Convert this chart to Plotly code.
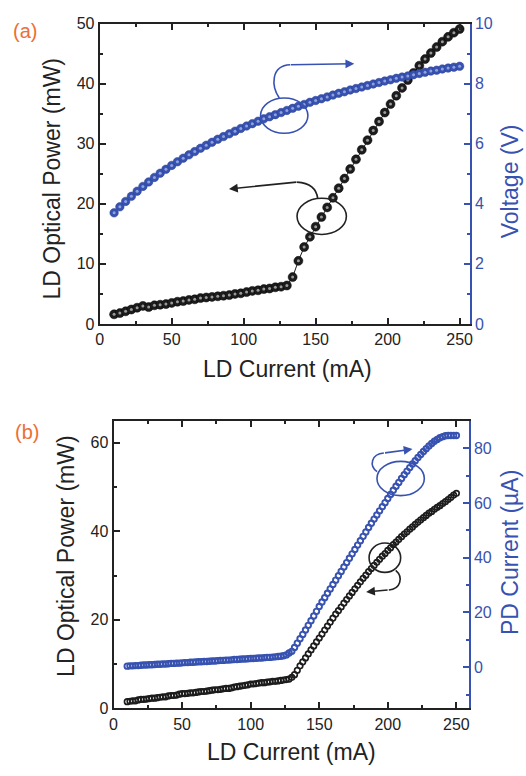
import plotly.graph_objects as go

W, H = 526, 776

# ---------------- DATA ----------------
# Panel (a)
a_current = list(range(10, 251, 4))
a_power = [1.6, 1.8, 2.1, 2.4, 2.7, 3.0, 2.8, 3.1, 3.2, 3.3, 3.5, 3.7, 3.8, 4.0, 4.1, 4.3,
           4.4, 4.5, 4.6, 4.7, 4.8, 5.0, 5.1, 5.3, 5.5, 5.6, 5.8, 5.9, 6.1, 6.2, 6.4, 7.8,
           10.5, 12.8, 14.5, 16.2, 17.8, 19.4, 21.0, 22.6, 24.2, 25.8, 27.4, 29.0, 30.6,
           32.2, 33.7, 35.2, 36.6, 38.0, 39.3, 40.6, 41.8, 43.0, 44.1, 45.1, 46.1, 47.0,
           47.8, 48.5, 49.1]
a_voltage = [3.70, 3.90, 4.08, 4.25, 4.42, 4.58, 4.73, 4.88, 5.02, 5.15, 5.28, 5.40, 5.52,
             5.63, 5.74, 5.85, 5.95, 6.05, 6.15, 6.24, 6.33, 6.42, 6.51, 6.59, 6.67, 6.75,
             6.83, 6.90, 6.97, 7.04, 7.11, 7.18, 7.25, 7.31, 7.38, 7.44, 7.50, 7.56, 7.62,
             7.68, 7.73, 7.79, 7.84, 7.89, 7.94, 7.99, 8.04, 8.09, 8.13, 8.18, 8.22, 8.26,
             8.30, 8.34, 8.38, 8.42, 8.45, 8.49, 8.52, 8.55, 8.58]

# Panel (b)
b_current = list(range(10, 251, 2))
b_power = [1.5, 1.6, 1.7, 1.7, 1.9, 2.0, 2.0, 2.1, 2.2, 2.3, 2.3, 2.4, 2.5, 2.6, 2.6, 2.8,
           2.9, 2.9, 3.0, 3.2, 3.3, 3.3, 3.4, 3.5, 3.5, 3.6, 3.7, 3.8, 3.8, 3.9, 4.0, 4.1,
           4.2, 4.2, 4.3, 4.4, 4.5, 4.5, 4.6, 4.8, 4.9, 5.0, 5.1, 5.2, 5.3, 5.5, 5.5, 5.6,
           5.7, 5.8, 5.8, 5.9, 6.0, 6.1, 6.1, 6.2, 6.3, 6.4, 6.5, 6.6, 7.0, 7.6, 8.6, 9.6,
           10.5, 11.4, 12.3, 13.2, 14.1, 15.0, 15.9, 16.8, 17.7, 18.6, 19.5, 20.4, 21.3,
           22.1, 22.9, 23.8, 24.6, 25.4, 26.2, 27.0, 27.8, 28.6, 29.4, 30.1, 30.9, 31.6,
           32.3, 33.0, 33.7, 34.4, 35.0, 35.7, 36.3, 37.0, 37.6, 38.2, 38.8, 39.4, 39.9,
           40.5, 41.0, 41.6, 42.1, 42.6, 43.1, 43.6, 44.1, 44.5, 45.0, 45.4, 45.8, 46.3,
           46.7, 47.2, 47.7, 48.2, 48.6]
b_pd_current = [0.4, 0.5, 0.5, 0.6, 0.6, 0.7, 0.8, 0.8, 0.9, 0.9, 1.0, 1.1, 1.1, 1.2, 1.2,
                1.3, 1.4, 1.4, 1.5, 1.5, 1.6, 1.7, 1.7, 1.8, 1.8, 1.9, 2.0, 2.0, 2.1, 2.1,
                2.2, 2.3, 2.3, 2.4, 2.5, 2.5, 2.6, 2.6, 2.7, 2.8, 2.8, 2.9, 3.0, 3.0, 3.1,
                3.2, 3.2, 3.3, 3.4, 3.4, 3.5, 3.6, 3.6, 3.7, 3.8, 3.9, 4.0, 4.2, 4.5, 5.2,
                5.8, 7.2, 8.8, 10.4, 12.0, 13.6, 15.3, 17.0, 18.7, 20.4, 22.2, 23.8, 25.4,
                27.0, 28.6, 30.2, 31.8, 33.4, 35.0, 36.6, 38.2, 39.8, 41.4, 43.0, 44.6,
                46.2, 47.8, 49.4, 51.0, 52.6, 54.1, 55.6, 57.1, 58.6, 60.1, 61.6, 63.1,
                64.6, 66.1, 67.5, 68.9, 70.3, 71.6, 72.9, 74.2, 75.4, 76.6, 77.7, 78.8,
                79.8, 80.8, 81.7, 82.5, 83.2, 83.8, 84.2, 84.5, 84.6, 84.6, 84.6, 84.6]

# tick values
a_xticks = [0, 50, 100, 150, 200, 250]
a_yticks_left = [0, 10, 20, 30, 40, 50]
a_yticks_right = [0, 2, 4, 6, 8, 10]
b_xticks = [0, 50, 100, 150, 200, 250]
b_yticks_left = [0, 20, 40, 60]
b_yticks_right = [0, 20, 40, 60, 80]

# ---------------- STYLE ----------------
BLUE = "#3752b0"
BLACK = "#1c1c1c"
ORANGE = "#ec6f34"
FONT = "Liberation Sans, Arial, sans-serif"


def px(x):
    return x / W


def py(y):
    return 1 - y / H


fig = go.Figure()

# panel (a)
fig.add_trace(go.Scatter(x=a_current, y=a_power, mode="lines+markers", xaxis="x", yaxis="y",
                         line=dict(color=BLACK, width=1),
                         marker=dict(size=9, color=BLACK, line=dict(color="#000", width=0.5))))
fig.add_trace(go.Scatter(x=a_current, y=a_power, mode="markers", xaxis="x", yaxis="y",
                         marker=dict(size=3, color="#9a9a9a")))
fig.add_trace(go.Scatter(x=a_current, y=a_voltage, mode="markers", xaxis="x", yaxis="y2",
                         marker=dict(size=8.5, color=BLUE, line=dict(color="#2a3f95", width=0.5))))
fig.add_trace(go.Scatter(x=a_current, y=a_voltage, mode="markers", xaxis="x", yaxis="y2",
                         marker=dict(size=3, color="#8fa2de")))

# panel (b)
fig.add_trace(go.Scatter(x=b_current, y=b_power, mode="markers", xaxis="x2", yaxis="y3",
                         marker=dict(size=5.5, color="rgba(255,255,255,0)", symbol="circle",
                                     line=dict(color=BLACK, width=1.7))))
fig.add_trace(go.Scatter(x=b_current, y=b_pd_current, mode="markers", xaxis="x2", yaxis="y4",
                         marker=dict(size=5.5, color="rgba(255,255,255,0)", symbol="circle",
                                     line=dict(color=BLUE, width=1.9))))

tickfont_k = dict(family=FONT, size=16, color="#222")
tickfont_b = dict(family=FONT, size=16, color=BLUE)


def xax(domain, yanchor, rng):
    return dict(domain=domain, anchor=yanchor, range=rng, tickvals=a_xticks,
                ticks="inside", ticklen=6, tickwidth=1.5, tickcolor="#222",
                showline=True, linecolor="#222", linewidth=2, mirror="ticks",
                showgrid=False, zeroline=False, tickfont=tickfont_k,
                minor=dict(dtick=25, ticks="inside", ticklen=3, tickwidth=1.5, tickcolor="#222"))


fig.update_layout(
    width=W, height=H, margin=dict(l=0, r=0, t=0, b=0),
    paper_bgcolor="white", plot_bgcolor="white", showlegend=False,
    font=dict(family=FONT),
    xaxis=xax([px(97), px(472)], "y", [0, 257]),
    yaxis=dict(domain=[py(323), py(16)], anchor="x", range=[0, 50], tickvals=a_yticks_left,
               ticks="inside", ticklen=6, tickwidth=1.5, tickcolor="#222",
               showline=True, linecolor="#222", linewidth=2, showgrid=False, zeroline=False,
               tickfont=tickfont_k,
               minor=dict(dtick=5, ticks="inside", ticklen=3, tickwidth=1.5, tickcolor="#222")),
    yaxis2=dict(overlaying="y", side="right", anchor="x", range=[0, 10], tickvals=a_yticks_right,
                ticks="inside", ticklen=6, tickwidth=1.5, tickcolor=BLUE,
                showline=True, linecolor=BLUE, linewidth=2, showgrid=False, zeroline=False,
                tickfont=tickfont_b,
                minor=dict(dtick=1, ticks="inside", ticklen=3, tickwidth=1.5, tickcolor=BLUE)),
    xaxis2=xax([px(111), px(471)], "y3", [0, 259]),
    yaxis3=dict(domain=[py(716), py(422)], anchor="x2", range=[0, 65], tickvals=b_yticks_left,
                ticks="inside", ticklen=6, tickwidth=1.5, tickcolor="#222",
                showline=True, linecolor="#222", linewidth=2, showgrid=False, zeroline=False,
                tickfont=tickfont_k,
                minor=dict(dtick=10, ticks="inside", ticklen=3, tickwidth=1.5, tickcolor="#222")),
    yaxis4=dict(overlaying="y3", side="right", anchor="x2", range=[-15, 90],
                tickvals=b_yticks_right,
                ticks="inside", ticklen=6, tickwidth=1.5, tickcolor=BLUE,
                showline=True, linecolor=BLUE, linewidth=2, showgrid=False, zeroline=False,
                tickfont=tickfont_b,
                minor=dict(tick0=-10, dtick=10, ticks="inside", ticklen=3, tickwidth=1.5,
                           tickcolor=BLUE)),
)

# ------------- text annotations -------------
TF = 23


def text(x, y, s, color="#222", size=TF, angle=0):
    fig.add_annotation(x=px(x), y=py(y), xref="paper", yref="paper", text=s, showarrow=False,
                       textangle=angle, xanchor="center", yanchor="middle",
                       font=dict(family=FONT, size=size, color=color))


text(21, 24, "(a)", ORANGE, 20)
text(23, 433, "(b)", ORANGE, 20)
text(49, 174, "LD Optical Power (mW)", angle=-90)
text(513, 177, "Voltage (V)", BLUE, angle=-90)
text(287, 369, "LD Current (mA)")
text(63, 560, "LD Optical Power (mW)", angle=-90)
text(513, 557, "PD Current (µA)", BLUE, angle=-90)
text(291, 761, "LD Current (mA)")

# ------------- ellipses and curved arrows -------------
def ellipse(cx, cy, w, h, color):
    fig.add_shape(type="circle", xref="paper", yref="paper",
                  x0=px(cx - w / 2), x1=px(cx + w / 2), y0=py(cy + h / 2), y1=py(cy - h / 2),
                  line=dict(color=color, width=1.6))


def curve(pts, color):
    (x0, y0), (x1, y1), (x2, y2), (x3, y3) = pts
    path = "M {},{} C {},{} {},{} {},{}".format(px(x0), py(y0), px(x1), py(y1),
                                                 px(x2), py(y2), px(x3), py(y3))
    fig.add_shape(type="path", xref="paper", yref="paper", path=path,
                  line=dict(color=color, width=1.6))


def arrow(tail, tip, color):
    fig.add_annotation(x=px(tip[0]), y=py(tip[1]), xref="paper", yref="paper",
                       ax=tail[0] - tip[0], ay=tail[1] - tip[1], text="", showarrow=True,
                       arrowhead=2, arrowsize=1.1, arrowwidth=1.6, arrowcolor=color)


# (a) blue
ellipse(284, 110, 48, 36, BLUE)
curve([(279, 92), (271, 80), (270, 59), (290, 58)], BLUE)
arrow((290, 58), (355, 57), BLUE)
# (a) black
ellipse(322, 213, 50, 37, "#222")
curve([(318, 195), (317, 186), (312, 179), (297, 178)], "#222")
arrow((297, 178), (228, 185), "#222")
# (b) blue
ellipse(402, 481, 48, 35, BLUE)
curve([(378, 474), (370, 468), (372, 456), (385, 455)], BLUE)
arrow((385, 455), (414, 451), BLUE)
# (b) black
ellipse(386, 562, 32, 30, "#222")
curve([(397, 575), (405, 582), (402, 594), (390, 595)], "#222")
arrow((390, 595), (367, 597), "#222")

fig.write_html("out.html")
